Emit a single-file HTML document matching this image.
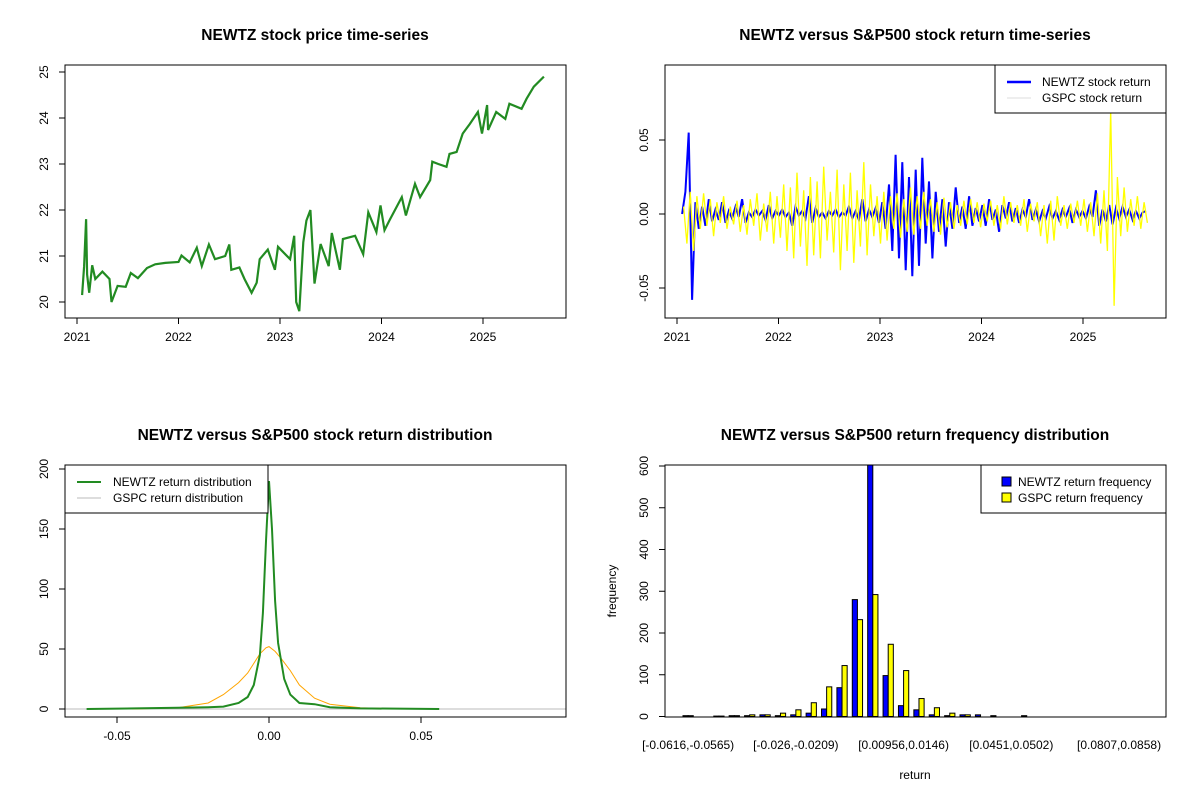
<!DOCTYPE html>
<html><head><meta charset="utf-8"><style>
body{margin:0;background:#fff}
svg text{font-family:"Liberation Sans",Arial,sans-serif;fill:#000}
</style></head><body>
<svg id="s" width="1200" height="800" xmlns="http://www.w3.org/2000/svg">
<rect width="1200" height="800" fill="#fff"/>
</svg>
<script>
// ---------- data ----------
const priceYears=[2021.05,2021.07,2021.09,2021.1,2021.12,2021.15,2021.18,2021.25,2021.32,2021.34,2021.4,2021.48,2021.53,2021.6,2021.69,2021.77,2021.87,2022.0,2022.03,2022.11,2022.18,2022.23,2022.3,2022.36,2022.46,2022.5,2022.52,2022.6,2022.65,2022.72,2022.77,2022.8,2022.88,2022.95,2022.98,2023.1,2023.14,2023.16,2023.19,2023.23,2023.26,2023.3,2023.34,2023.4,2023.48,2023.51,2023.59,2023.62,2023.74,2023.82,2023.87,2023.95,2023.99,2024.03,2024.08,2024.2,2024.24,2024.33,2024.38,2024.48,2024.5,2024.56,2024.64,2024.67,2024.74,2024.8,2024.87,2024.95,2024.99,2025.04,2025.05,2025.13,2025.22,2025.26,2025.38,2025.43,2025.5,2025.6];
const priceValues=[20.15,20.77,21.8,20.6,20.2,20.8,20.5,20.66,20.5,20.0,20.35,20.33,20.63,20.52,20.74,20.82,20.85,20.87,21.01,20.86,21.18,20.78,21.25,20.93,21.0,21.25,20.7,20.75,20.5,20.2,20.42,20.93,21.14,20.7,21.2,20.93,21.44,20.0,19.8,21.3,21.77,22.0,20.4,21.26,20.78,21.5,20.7,21.37,21.44,21.04,21.95,21.52,22.1,21.56,21.78,22.28,21.88,22.57,22.28,22.65,23.05,23.0,22.94,23.22,23.26,23.66,23.87,24.13,23.66,24.28,23.74,24.13,23.98,24.31,24.2,24.42,24.68,24.9];
const priceYTicks=[20,21,22,23,24,25];
const yearTicks=[2021,2022,2023,2024,2025];
const returnStart=2021.05, returnEnd=2025.62;
const newtzReturnsPermille=[0,15,55,-58,8,-10,5,-8,10,-5,3,-4,8,-6,2,-3,5,-2,10,-6,1,-2,3,-1,2,-4,6,-3,2,-1,3,-2,1,-8,5,-1,2,-3,12,-6,4,-2,1,-3,2,-1,3,-2,1,-1,5,-3,2,-4,10,-5,3,-2,4,-6,8,-10,20,-25,40,-30,35,-38,25,-42,30,-35,38,-20,22,-30,15,-12,10,-22,8,-10,18,-6,5,-10,12,-8,4,-5,6,-8,10,-4,3,-12,6,-3,8,-5,4,-6,3,-2,10,-4,3,-5,2,-3,5,-3,2,-4,3,-2,4,-6,3,-2,2,-3,5,-2,16,-8,3,-5,6,-7,4,-3,5,-2,3,-4,2,-3,1,2];
const gspcReturnsPermille=[5,-20,15,-25,12,-10,14,-8,10,-15,8,-6,12,-10,5,-7,9,-12,6,-14,10,-8,14,-18,7,-12,15,-20,12,-16,20,-25,18,-30,28,-22,16,-35,25,-28,22,-30,32,-18,15,-26,30,-38,20,-25,28,-33,16,-22,35,-28,20,-15,12,-20,15,-18,12,-10,14,-16,10,-12,18,-14,12,-10,15,-8,10,-12,8,-14,11,-9,8,-10,6,-8,9,-7,10,-6,8,-9,7,-5,9,-8,6,-10,12,-7,8,-6,6,-8,10,-12,7,-5,8,-15,6,-20,9,-18,12,-8,6,-10,7,-6,9,-8,10,-12,8,-15,14,-20,16,-25,70,-62,25,-15,18,-12,10,-8,12,-10,8,-6];
const returnYTicks=[-0.05,0,0.05];
const returnYLabels=["-0.05","0.00","0.05"];
const newtzDensX=[-0.06,-0.03,-0.02,-0.015,-0.01,-0.007,-0.005,-0.003,-0.002,-0.001,0,0.001,0.002,0.003,0.005,0.007,0.01,0.015,0.02,0.03,0.056];
const newtzDensY=[0,1,1.5,2,5,10,20,45,80,140,190,150,90,55,25,12,5,4,1.5,0.5,0];
const gspcDensX=[-0.045,-0.03,-0.02,-0.015,-0.01,-0.007,-0.005,-0.003,-0.001,0,0.002,0.004,0.007,0.01,0.015,0.02,0.03,0.045];
const gspcDensY=[0,1,5,12,22,30,38,46,51,52,48,42,32,20,9,4,1,0];
const densXTicks=[-0.05,0,0.05];
const densXLabels=["-0.05","0.00","0.05"];
const densYTicks=[0,50,100,150,200];
const newtzFreq=[2,0,1,2,2,4,2,4,8,18,69,280,660,98,26,16,4,2,4,4,2,0,2,0,0,0,0,0,0,0];
const gspcFreq=[2,0,1,2,4,4,8,16,33,71,122,232,292,173,110,43,21,8,4,0,0,0,0,0,0,0,0,0,0,0];
const freqLabelIdx=[0,7,14,21,28];
const freqLabels=["[-0.0616,-0.0565)","[-0.026,-0.0209)","[0.00956,0.0146)","[0.0451,0.0502)","[0.0807,0.0858)"];
const freqYTicks=[0,100,200,300,400,500,600];
</script>
<script>
const S=document.getElementById('s');
const NS='http://www.w3.org/2000/svg';
function mk(tag,at,txt){const e=document.createElementNS(NS,tag);for(const k in at)e.setAttribute(k,at[k]);if(txt!==undefined)e.textContent=txt;S.appendChild(e);return e;}
function lin(d0,d1,p0,p1){return v=>p0+(v-d0)*(p1-p0)/(d1-d0);}

function box(x0,y0,x1,y1,name){const r=mk('rect',{x:x0,y:y0,width:x1-x0,height:y1-y0,fill:'none',stroke:'#000','stroke-width':1});

}
function title(x,y,t,name){const e=mk('text',{x:x,y:y,'text-anchor':'middle','font-size':'15.5','font-weight':'bold'},t);

}
function xtick(x,y,lab,name){mk('line',{x1:x,x2:x,y1:y,y2:y+6,stroke:'#000'});
const t=mk('text',{x:x,y:y+23,'text-anchor':'middle','font-size':'12'},lab);

}
function ytick(x,y,lab,name){mk('line',{x1:x-6,x2:x,y1:y,y2:y,stroke:'#000'});
const t=mk('text',{x:x-17,y:y,'text-anchor':'middle','font-size':'12',transform:`rotate(-90 ${x-17} ${y})`},lab);

}
function poly(pts,color,w,name){const p=mk('polyline',{points:pts.map(p=>p[0].toFixed(1)+','+p[1].toFixed(1)).join(' '),fill:'none',stroke:color,'stroke-width':w,'stroke-linejoin':'miter'});

}

// Panel 1
{const X=lin(2021,2025,77,483),Y=lin(20,25,302,72);
title(315,40,'NEWTZ stock price time-series','price-chart-title');
box(65,65,566,318,'price-plot-area');
yearTicks.forEach(t=>xtick(X(t),318,String(t),'price-x-tick'));
mk('line',{x1:X(yearTicks[0]),x2:X(yearTicks[yearTicks.length-1]),y1:318,y2:318,stroke:'#000'});
priceYTicks.forEach(t=>ytick(65,Y(t),String(t),'price-y-tick'));
poly(priceYears.map((v,i)=>[X(v),Y(priceValues[i])]),'#228B22',2.2,'price-line');}

// Panel 2
{const X=lin(2021,2025,677,1083),Y=lin(0,0.05,214,140);
title(915,40,'NEWTZ versus S&P500 stock return time-series','return-chart-title');
yearTicks.forEach(t=>xtick(X(t),318,String(t),'return-x-tick'));
returnYTicks.forEach((t,i)=>ytick(665,Y(t),returnYLabels[i],'return-y-tick'));
const n=newtzReturnsPermille.length;const tx=i=>X(returnStart+(returnEnd-returnStart)*i/(n-1));
poly(newtzReturnsPermille.map((v,i)=>[tx(i),Y(v/1000)]),'#0000ff',2,'newtz-return-line');
const m=gspcReturnsPermille.length;const ty=i=>X(returnStart+(returnEnd-returnStart)*i/(m-1));
poly(gspcReturnsPermille.map((v,i)=>[ty(i)+1.5,Y(v/1000)]),'#ffff00',1.3,'gspc-return-line');
box(665,65,1166,318,'return-plot-area');
mk('rect',{x:995,y:65,width:171,height:48,fill:'#fff',stroke:'#000'});
mk('line',{x1:1007,x2:1031,y1:82,y2:82,stroke:'#0000ff','stroke-width':2.5});
mk('line',{x1:1007,x2:1031,y1:98,y2:98,stroke:'#ddd','stroke-width':1});
let a=mk('text',{x:1042,y:86,'font-size':'12'},'NEWTZ stock return');
let b=mk('text',{x:1042,y:102,'font-size':'12'},'GSPC stock return');}

// Panel 3
{const X=lin(0,0.05,269,421),Y=lin(0,200,709,469);
title(315,440,'NEWTZ versus S&P500 stock return distribution','density-chart-title');
densXTicks.forEach((t,i)=>xtick(X(t),717,densXLabels[i],'density-x-tick'));
mk('line',{x1:X(-0.05),x2:X(0.05),y1:717,y2:717,stroke:'#000'});
densYTicks.forEach(t=>ytick(65,Y(t),String(t),'density-y-tick'));
mk('line',{x1:65,x2:566,y1:Y(0),y2:Y(0),stroke:'#bbb'});
poly(gspcDensX.map((v,i)=>[X(v),Y(gspcDensY[i])]),'#FFA500',1,'gspc-density-curve');
poly(newtzDensX.map((v,i)=>[X(v),Y(newtzDensY[i])]),'#228B22',2,'newtz-density-curve');
box(65,465,566,717,'density-plot-area');
mk('rect',{x:65,y:465,width:203,height:48,fill:'#fff',stroke:'#000'});
mk('line',{x1:77,x2:101,y1:482,y2:482,stroke:'#228B22','stroke-width':2});
mk('line',{x1:77,x2:101,y1:498,y2:498,stroke:'#bbb','stroke-width':1});
let a=mk('text',{x:113,y:486,'font-size':'12'},'NEWTZ return distribution');
let b=mk('text',{x:113,y:502,'font-size':'12'},'GSPC return distribution');}

// Panel 4
{const Y=lin(0,600,716.5,466);const unit=5.13;const G=i=>683+i*3*unit;
title(915,440,'NEWTZ versus S&P500 return frequency distribution','frequency-chart-title');
freqYTicks.forEach(t=>ytick(665,Y(t),String(t),'frequency-y-tick'));
const c=mk('clipPath',{id:'cp'});const cr=document.createElementNS(NS,'rect');cr.setAttribute('x',665);cr.setAttribute('y',465);cr.setAttribute('width',501);cr.setAttribute('height',252);c.appendChild(cr);
newtzFreq.forEach((v,i)=>{const r=mk('rect',{x:G(i),y:Y(v),width:unit,height:Math.max(0,Y(0)-Y(v)),fill:'#0000ff',stroke:'#000','stroke-width':1,'clip-path':'url(#cp)'});

});
gspcFreq.forEach((v,i)=>{const r=mk('rect',{x:G(i)+unit,y:Y(v),width:unit,height:Math.max(0,Y(0)-Y(v)),fill:'#ffff00',stroke:'#000','stroke-width':1,'clip-path':'url(#cp)'});

});
freqLabelIdx.forEach((k,j)=>{const t=mk('text',{x:G(k)+unit,y:749,'text-anchor':'middle','font-size':'12'},freqLabels[j]);});
box(665,465,1166,717,'frequency-plot-area');
let xl=mk('text',{x:915,y:779,'text-anchor':'middle','font-size':'12'},'return');
let yl=mk('text',{x:616,y:591,'text-anchor':'middle','font-size':'12',transform:'rotate(-90 616 591)'},'frequency');
mk('rect',{x:981,y:465,width:185,height:48,fill:'#fff',stroke:'#000'});
mk('rect',{x:1002,y:477,width:9,height:9,fill:'#0000ff',stroke:'#000'});
mk('rect',{x:1002,y:493,width:9,height:9,fill:'#ffff00',stroke:'#000'});
let a=mk('text',{x:1018,y:486,'font-size':'12'},'NEWTZ return frequency');
let b=mk('text',{x:1018,y:502,'font-size':'12'},'GSPC return frequency');}
</script>
</body></html>
